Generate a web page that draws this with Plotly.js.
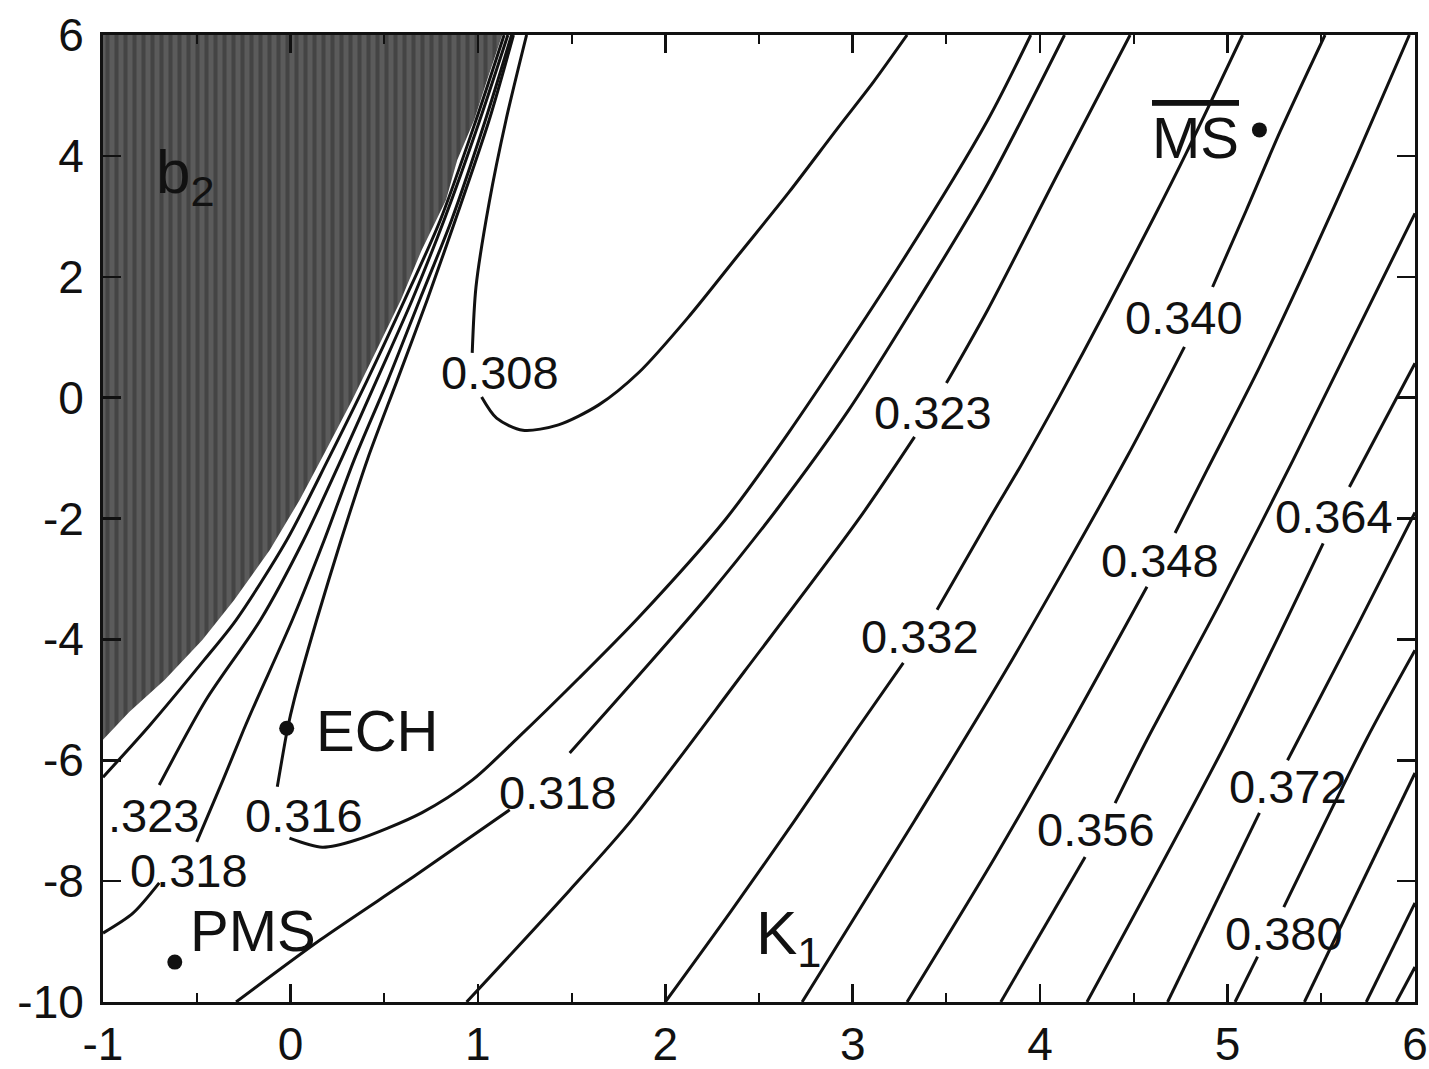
<!DOCTYPE html>
<html>
<head>
<meta charset="utf-8">
<script src="https://cdn.plot.ly/plotly-3.0.1.min.js"></script>
<style>html,body{margin:0;padding:0;background:#fff;}#chart{width:1429px;height:1069px;}</style>
</head>
<body>
<div id="chart"></div>
<script>
// ---- Data (x = first coupling, y = b2) ----
// Shaded (excluded) region, outlined along its boundary
const shadeX = [-1, 1.13, 1.05, 0.98, 0.89, 0.83, 0.70, 0.59, 0.46, 0.33, 0.19, 0.05, -0.11, -0.30, -0.47, -0.67, -0.86, -1];
const shadeY = [6, 6, 5.26, 4.59, 3.93, 3.27, 2.44, 1.62, 0.79, -0.04, -0.87, -1.69, -2.52, -3.35, -4.01, -4.67, -5.20, -5.66];

// Contour lines (null = gap where the level label sits)
const c308X = [1.26, 1.15, 1.06, 0.99, 0.97, null, 1.02, 1.10, 1.24, 1.43, 1.645, 1.86, 2.12, 2.39, 2.66, 2.92, 3.11, 3.29];
const c308Y = [6, 4.59, 3.22, 1.83, 0.74, null, 0.01, -0.34, -0.54, -0.45, -0.12, 0.42, 1.32, 2.36, 3.40, 4.46, 5.22, 6];
const c316X = [1.19, 1.06, 0.88, 0.73, 0.57, 0.41, 0.27, 0.14, 0.02, -0.015, -0.07, null,
               -0.005, 0.17, 0.35, 0.70, 0.97, 1.22, 1.54, 1.86, 2.32, 2.66, 3.24, 3.72, 3.95];
const c316Y = [6, 4.59, 2.94, 1.62, 0.29, -1.03, -2.36, -3.68, -5.00, -5.47, -6.44, null,
               -7.29, -7.44, -7.32, -6.87, -6.33, -5.61, -4.64, -3.63, -2.02, -0.57, 2.14, 4.59, 6];
const c318aX = [1.18, 1.04, 0.86, 0.69, 0.52, 0.34, 0.18, 0.01, -0.18, -0.25, -0.36, -0.50, null, -0.70, -0.84, -1.0];
const c318aY = [6, 4.59, 2.94, 1.62, 0.29, -1.03, -2.36, -3.68, -5.00, -5.50, -6.33, -7.35, null, -8.03, -8.53, -8.86];
const c318bX = [-0.29, 0.16, 0.67, 1.17, null, 1.49, 1.86, 2.23, 2.60, 2.98, 3.35, 3.72, 4.13];
const c318bY = [-10, -8.97, -7.90, -6.82, null, -5.88, -4.59, -3.27, -1.83, -0.20, 1.62, 3.53, 6];
const c323aX = [1.16, 1.01, 0.82, 0.65, 0.46, 0.27, 0.07, -0.16, -0.45, -0.70];
const c323aY = [6, 4.59, 2.94, 1.62, 0.29, -1.03, -2.36, -3.68, -5.00, -6.41];
const c323bX = [0.94, 1.49, 1.82, 2.42, 3.03, 3.33, null, 3.50, 3.72, 4.09, 4.48];
const c323bY = [-10, -8.15, -6.99, -4.54, -2.02, -0.65, null, 0.24, 1.45, 3.68, 6];
const c332aX = [1.14, 0.99, 0.80, 0.61, 0.41, 0.20, -0.02, -0.29, -0.46, -0.75, -1.0];
const c332aY = [6, 4.59, 2.94, 1.62, 0.29, -1.03, -2.36, -3.68, -4.34, -5.42, -6.28];
const c332bX = [2.00, 2.35, 2.69, 3.02, 3.27, null, 3.45, 3.73, 3.90, 4.10, 4.35, 4.61, 4.78, 5.08];
const c332bY = [-10, -8.5, -7.0, -5.5, -4.39, null, -3.51, -2.0, -1.11, 0, 1.45, 3.0, 4.05, 6];
const c340X = [2.73, 3.33, 3.82, 4.46, 4.77, null, 4.92, 5.10, 5.28, 5.52];
const c340Y = [-10, -7.0, -4.5, -1.0, 0.84, null, 1.83, 3.1, 4.4, 6];
const c348X = [3.29, 3.76, 4.13, 4.57, null, 4.72, 4.89, 5.17, 5.44, 5.69, 5.97];
const c348Y = [-10, -7.6, -5.6, -3.13, null, -2.24, -1.2, 0.5, 2.28, 4.0, 6];
const c356X = [3.79, 4.24, null, 4.40, 4.57, 4.96, 5.35, 6.0];
const c356Y = [-10, -7.60, null, -6.71, -5.66, -3.40, -1.03, 3.05];
const c364X = [4.25, 5.00, 5.51, null, 5.65, 6.0];
const c364Y = [-10, -5.66, -2.41, null, -1.48, 0.57];
const c372X = [4.68, 5.17, null, 5.32, 5.69, 6.0];
const c372Y = [-10, -6.87, null, -6.00, -3.79, -1.9];
const c380X = [5.04, 5.16, null, 5.30, 5.74, 6.0];
const c380Y = [-10, -9.25, null, -8.43, -5.66, -4.18];
const c388X = [5.41, 6.0];
const c388Y = [-10, -6.21];
const c396X = [5.74, 6.0];
const c396Y = [-10, -8.36];
const c404X = [5.90, 6.0];
const c404Y = [-10, -9.42];

// Contour level labels
const levelText = ['0.308', '0.316', '.323', '0.318', '0.318', '0.323', '0.332', '0.340', '0.348', '0.356', '0.364', '0.372', '0.380'];
const levelX = [1.12, 0.07, -0.73, -0.54, 1.43, 3.43, 3.36, 4.77, 4.64, 4.30, 5.57, 5.32, 5.30];
const levelY = [0.41, -6.91, -6.91, -7.82, -6.54, -0.24, -3.96, 1.32, -2.69, -7.15, -1.96, -6.44, -8.86];

// Marked schemes
const pointName = ['PMS', 'ECH', '<span style="text-decoration:overline">MS</span>'];
const pointX = [-0.617, -0.02, 5.17];
const pointY = [-9.34, -5.47, 4.43];
const pointLabelX = [-0.20, 0.46, 4.83];
const pointLabelY = [-8.81, -5.50, 4.30];

// Axis ticks
const xTicks = [-1, 0, 1, 2, 3, 4, 5, 6];
const xTickText = ['-1', '0', '1', '2', '3', '4', '5', '6'];
const yTicks = [-10, -8, -6, -4, -2, 0, 2, 4, 6];
const yTickText = ['-10', '-8', '-6', '-4', '-2', '0', '2', '4', '6'];

// ---- Build figure ----
const FONT = 'Liberation Sans, Arial, Helvetica, sans-serif';
const INK = '#111111';
const lineStyle = {color: INK, width: 3, shape: 'spline', smoothing: 0.8};

const contours = [
  [c308X, c308Y], [c316X, c316Y], [c318aX, c318aY], [c318bX, c318bY],
  [c323aX, c323aY], [c323bX, c323bY], [c332aX, c332aY], [c332bX, c332bY],
  [c340X, c340Y], [c348X, c348Y], [c356X, c356Y], [c364X, c364Y],
  [c372X, c372Y], [c380X, c380Y], [c388X, c388Y], [c396X, c396Y], [c404X, c404Y]
];

const traces = [{
  x: shadeX, y: shadeY, type: 'scatter', mode: 'lines', fill: 'toself',
  fillcolor: '#555555',
  fillpattern: {shape: '|', bgcolor: '#5b5b5b', fgcolor: '#444444', size: 9, solidity: 0.45},
  line: {color: '#505050', width: 0}, hoverinfo: 'skip'
}];
contours.forEach(function (c) {
  traces.push({x: c[0], y: c[1], type: 'scatter', mode: 'lines', line: lineStyle,
    connectgaps: false, hoverinfo: 'skip'});
});
traces.push({x: pointX, y: pointY, type: 'scatter', mode: 'markers',
  marker: {color: INK, size: 15}, hoverinfo: 'skip'});

const annotations = [];
levelText.forEach(function (t, i) {
  annotations.push({x: levelX[i], y: levelY[i], text: t, showarrow: false,
    xanchor: 'center', yanchor: 'middle', font: {family: FONT, size: 47, color: INK}});
});
pointName.forEach(function (t, i) {
  annotations.push({x: pointLabelX[i], y: pointLabelY[i], text: t, showarrow: false,
    xanchor: 'center', yanchor: 'middle', font: {family: FONT, size: 58, color: INK}});
});
annotations.push({x: -0.56, y: 3.66, text: 'b<sub>2</sub>', showarrow: false,
  font: {family: FONT, size: 62, color: INK}});
annotations.push({x: 2.66, y: -8.92, text: 'K<sub>1</sub>', showarrow: false,
  font: {family: FONT, size: 62, color: INK}});

const axisCommon = {
  tickmode: 'array', ticks: 'inside', ticklen: 18, tickwidth: 2.5, tickcolor: INK,
  showline: true, linewidth: 3, linecolor: INK, mirror: 'ticks',
  showgrid: false, zeroline: false, ticklabeloverflow: 'allow',
  tickfont: {family: FONT, size: 46, color: INK}
};

const layout = {
  width: 1429, height: 1069,
  margin: {l: 103, r: 14, t: 35, b: 67},
  paper_bgcolor: '#ffffff', plot_bgcolor: '#ffffff',
  showlegend: false,
  xaxis: Object.assign({}, axisCommon, {
    range: [-1, 6], tickvals: xTicks, ticktext: xTickText, ticklabelstandoff: 0,
    minor: {tickmode: 'linear', tick0: -1, dtick: 0.5, ticks: 'inside', ticklen: 9,
      tickwidth: 2, tickcolor: INK, showgrid: false}
  }),
  yaxis: Object.assign({}, axisCommon, {
    range: [-10, 6], tickvals: yTicks, ticktext: yTickText, ticklabelstandoff: 7
  }),
  annotations: annotations
};

Plotly.newPlot('chart', traces, layout, {staticPlot: true, displayModeBar: false});
</script>
</body>
</html>
